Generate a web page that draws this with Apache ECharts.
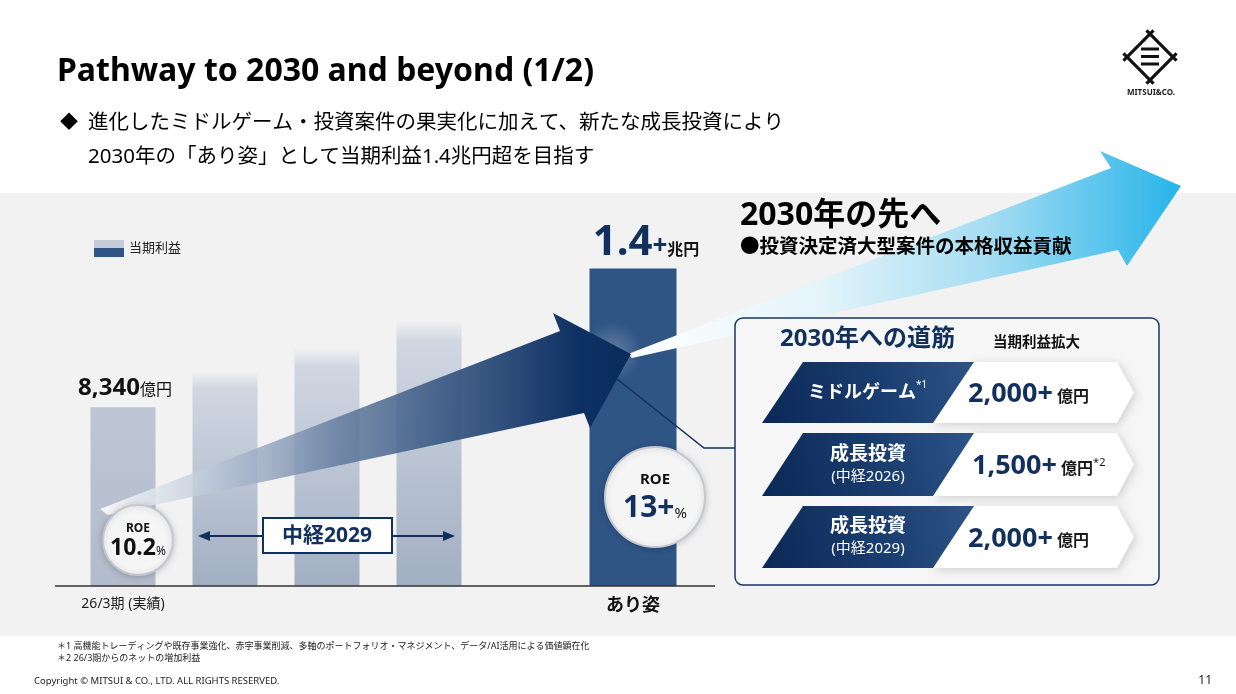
<!DOCTYPE html>
<html>
<head>
<meta charset="utf-8">
<script src="https://cdn.jsdelivr.net/npm/echarts@6/dist/echarts.min.js"></script>
<style>
  html, body { margin: 0; padding: 0; background: #fff; }
  #chart { width: 1236px; height: 694px; }
</style>
</head>
<body>
<div id="chart"></div>
<script>
// 当期利益（億円）: 26/3期実績, 中経2029期間の3本（目安）, 空き, あり姿
var categories = ['26/3期 (実績)', '', '', '', '', 'あり姿'];
var profit = [8340, 10000, 11100, 12400, null, 14800];
var valueText = ['8,340', '', '', '', '', '1.4'];
var valueUnit = ['億円', '', '', '', '', '兆円'];
var roeText = ['10.2', '13+'];

// 2030年への道筋
var pathName = ['ミドルゲーム', '成長投資', '成長投資'];
var pathSub = ['', '(中経2026)', '(中経2029)'];
var pathValue = ['2,000+', '1,500+', '2,000+'];
var pathNote = ['', '*2', ''];

var FONT = "'Noto Sans', 'Noto Sans CJK JP', sans-serif";
var NAVY = '#12305d';

var chart = echarts.init(document.getElementById('chart'));

var barData = [];
for (var i = 0; i < profit.length; i++) {
  if (profit[i] != null) barData.push([i, profit[i]]);
}

function barFill(i) {
  if (i === 0) {
    return new echarts.graphic.LinearGradient(0, 0, 0, 1, [
      { offset: 0, color: '#bdc6d4' }, { offset: 1, color: '#b2bccb' }
    ]);
  }
  if (i === 5) return '#2f5585';
  return new echarts.graphic.LinearGradient(0, 0, 0, 1, [
    { offset: 0, color: 'rgba(205,213,225,0)' },
    { offset: 0.08, color: '#d0d7e2' },
    { offset: 1, color: '#a2afc2' }
  ]);
}

function renderBar(params, api) {
  var i = api.value(0);
  var top = api.coord([i, api.value(1)]);
  var base = api.coord([i, 0]);
  var w = i === 5 ? 87 : 65;
  var children = [{
    type: 'rect',
    shape: { x: top[0] - w / 2, y: top[1], width: w, height: base[1] - top[1] },
    style: { fill: barFill(i) }
  }];
  if (i === 0) {
    children.push({
      type: 'text',
      style: {
        text: '{n|' + valueText[i] + '}{u|' + valueUnit[i] + '}',
        x: top[0] + 2, y: top[1] - 19,
        align: 'center', verticalAlign: 'middle',
        rich: {
          n: { fontFamily: FONT, fontSize: 24, fontWeight: 'bold', fill: '#111', verticalAlign: 'bottom' },
          u: { fontFamily: FONT, fontSize: 16, fill: '#111', verticalAlign: 'bottom', padding: [0, 0, 2, 0] }
        }
      }
    });
  } else if (i === 5) {
    children.push({
      type: 'text',
      style: {
        text: '{n|' + valueText[i] + '}{p|+}{u|' + valueUnit[i] + '}',
        x: top[0] + 13, y: top[1] - 26,
        align: 'center', verticalAlign: 'middle',
        rich: {
          n: { fontFamily: FONT, fontSize: 42, fontWeight: 'bold', fill: NAVY, verticalAlign: 'bottom' },
          p: { fontFamily: FONT, fontSize: 26, fontWeight: 'bold', fill: NAVY, verticalAlign: 'bottom', padding: [0, 0, 4, 0] },
          u: { fontFamily: FONT, fontSize: 16, fontWeight: 'bold', fill: '#111', verticalAlign: 'bottom', padding: [0, 0, 5, 0] }
        }
      }
    });
  }
  return { type: 'group', children: children };
}

// ---- 装飾（スライド要素） ----
var decor = [];

// グレー背景パネル
decor.push({ type: 'rect', z: -10, shape: { x: 0, y: 193, width: 1236, height: 443 }, style: { fill: '#f2f2f2' } });

// タイトル・リード文
decor.push({ type: 'text', x: 57, y: 72, style: { text: 'Pathway to 2030 and beyond (1/2)', font: 'bold 32px ' + FONT, fill: '#000', align: 'left', verticalAlign: 'middle', textAlign: 'left', textVerticalAlign: 'middle' } });
decor.push({ type: 'text', x: 60, y: 123, style: { text: '◆', font: '18px ' + FONT, fill: '#000', verticalAlign: 'middle', textVerticalAlign: 'middle' } });
decor.push({ type: 'text', x: 88, y: 123, style: { text: '進化したミドルゲーム・投資案件の果実化に加えて、新たな成長投資により', font: '20.5px ' + FONT, fill: '#000', verticalAlign: 'middle', textVerticalAlign: 'middle' } });
decor.push({ type: 'text', x: 88, y: 157, style: { text: '2030年の「あり姿」として当期利益1.4兆円超を目指す', font: '20.5px ' + FONT, fill: '#000', verticalAlign: 'middle', textVerticalAlign: 'middle' } });

// ロゴ
(function () {
  var cx = 1150, cy = 57, r = 23, e = 5;
  var pts = [[cx - r, cy], [cx, cy - r], [cx + r, cy], [cx, cy + r]];
  for (var k = 0; k < 4; k++) {
    var a = pts[k], b = pts[(k + 1) % 4];
    var dx = (b[0] - a[0]) / Math.hypot(b[0] - a[0], b[1] - a[1]);
    var dy = (b[1] - a[1]) / Math.hypot(b[0] - a[0], b[1] - a[1]);
    decor.push({ type: 'line', shape: { x1: a[0] - dx * e, y1: a[1] - dy * e, x2: b[0] + dx * e, y2: b[1] + dy * e }, style: { stroke: '#111', lineWidth: 3.2 } });
  }
  [49, 56.5, 64].forEach(function (yy) {
    decor.push({ type: 'rect', shape: { x: cx - 9, y: yy - 1.5, width: 18, height: 3 }, style: { fill: '#111' } });
  });
  decor.push({ type: 'text', x: cx + 1, y: 93, style: { text: 'MITSUI&CO.', font: 'bold 8px ' + FONT, fill: '#222', align: 'center', verticalAlign: 'middle', textAlign: 'center', textVerticalAlign: 'middle' } });
})();

// 横軸ライン
decor.push({ type: 'line', z: 5, shape: { x1: 55, y1: 586, x2: 715, y2: 586 }, style: { stroke: '#333', lineWidth: 1.5 } });

// 水色の矢印（2030年の先へ）
decor.push({
  type: 'polygon', z: 3,
  shape: { points: [[628, 354], [1111, 168], [1100, 151], [1181, 186], [1127, 266], [1118, 250], [632, 358]] },
  style: {
    fill: new echarts.graphic.LinearGradient(628, 0, 1181, 0, [
      { offset: 0, color: '#ffffff' },
      { offset: 0.35, color: '#e3f4fa' },
      { offset: 0.65, color: '#a6ddf2' },
      { offset: 1, color: '#27b4ea' }
    ], true)
  }
});

// 紺色の矢印
decor.push({
  type: 'polygon', z: 10,
  shape: { points: [[100, 509], [560, 331], [553, 313], [631, 354], [590, 428], [584, 413], [108, 515]] },
  style: {
    fill: new echarts.graphic.LinearGradient(100, 0, 631, 0, [
      { offset: 0, color: 'rgba(255,255,255,0.9)' },
      { offset: 0.2, color: 'rgba(190,202,218,0.8)' },
      { offset: 0.45, color: 'rgba(100,124,160,0.85)' },
      { offset: 0.7, color: 'rgba(45,78,122,0.92)' },
      { offset: 0.9, color: '#0e3163' },
      { offset: 1, color: '#0a2b5c' }
    ], true)
  }
});
decor.push({
  type: 'circle', z: 9, shape: { cx: 612, cy: 352, r: 30 },
  style: { fill: new echarts.graphic.RadialGradient(0.5, 0.5, 0.5, [
    { offset: 0, color: 'rgba(255,255,255,0.25)' }, { offset: 1, color: 'rgba(255,255,255,0)' }
  ]) }
});

// 引き出し線
decor.push({ type: 'polyline', z: 11, shape: { points: [[617, 379], [704, 448], [736, 448]] }, style: { stroke: NAVY, lineWidth: 1.5, fill: null } });

// ROE 円
function roeCircle(cx, cy, r, label, num, s1, s2, s3, numColor, dy1, dy2) {
  decor.push({ type: 'circle', z: 20, shape: { cx: cx, cy: cy, r: r }, style: { fill: '#f5f5f5', stroke: '#c3c8d0', lineWidth: 2, shadowBlur: 6, shadowColor: 'rgba(0,0,0,0.18)', shadowOffsetY: 1 } });
  decor.push({ type: 'text', z: 21, x: cx, y: cy + dy1, style: { text: label, font: 'bold ' + s1 + 'px ' + FONT, fill: '#111', align: 'center', verticalAlign: 'middle', textAlign: 'center', textVerticalAlign: 'middle' } });
  decor.push({
    type: 'text', z: 21, x: cx, y: cy + dy2,
    style: {
      text: '{n|' + num + '}{u|%}', align: 'center', verticalAlign: 'middle', textAlign: 'center', textVerticalAlign: 'middle',
      rich: {
        n: { fontFamily: FONT, fontSize: s2, fontWeight: 'bold', fill: numColor, verticalAlign: 'bottom' },
        u: { fontFamily: FONT, fontSize: s3, fill: '#111', verticalAlign: 'bottom', padding: [0, 0, 2, 0] }
      }
    }
  });
}
roeCircle(138, 540, 35, 'ROE', roeText[0], 12, 23, 12, '#111', -11, 8);
roeCircle(655, 497, 50, 'ROE', roeText[1], 15, 30, 15, NAVY, -17, 11);

// 中経2029 ラベルと両矢印
decor.push({ type: 'line', z: 12, shape: { x1: 206, y1: 536, x2: 447, y2: 536 }, style: { stroke: NAVY, lineWidth: 1.8 } });
decor.push({ type: 'polygon', z: 12, shape: { points: [[198, 536], [210, 531], [210, 541]] }, style: { fill: NAVY } });
decor.push({ type: 'polygon', z: 12, shape: { points: [[455, 536], [443, 531], [443, 541]] }, style: { fill: NAVY } });
decor.push({ type: 'rect', z: 13, shape: { x: 263, y: 518, width: 129, height: 35 }, style: { fill: '#fff', stroke: NAVY, lineWidth: 2 } });
decor.push({ type: 'text', z: 14, x: 327, y: 536, style: { text: '中経2029', font: 'bold 21px ' + FONT, fill: NAVY, align: 'center', verticalAlign: 'middle', textAlign: 'center', textVerticalAlign: 'middle' } });

// 2030年の先へ
decor.push({ type: 'text', z: 15, x: 740, y: 216, style: { text: '2030年の先へ', font: 'bold 32px ' + FONT, fill: '#000', verticalAlign: 'middle', textVerticalAlign: 'middle' } });
decor.push({ type: 'text', z: 15, x: 740, y: 247, style: { text: '●投資決定済大型案件の本格収益貢献', font: 'bold 19.5px ' + FONT, fill: '#000', verticalAlign: 'middle', textVerticalAlign: 'middle' } });

// 2030年への道筋 ボックス
decor.push({ type: 'rect', z: 15, shape: { x: 735, y: 318, width: 424, height: 267, r: 8 }, style: { fill: '#f6f6f6', stroke: '#1a3663', lineWidth: 1.5 } });
decor.push({ type: 'text', z: 16, x: 780, y: 339, style: { text: '2030年への道筋', font: 'bold 24px ' + FONT, fill: NAVY, verticalAlign: 'middle', textVerticalAlign: 'middle' } });
decor.push({ type: 'text', z: 16, x: 993, y: 343, style: { text: '当期利益拡大', font: 'bold 14.5px ' + FONT, fill: '#111', verticalAlign: 'middle', textVerticalAlign: 'middle' } });

var rowTop = [362, 433, 506];
var rowBottom = [423, 496, 568];
for (var r = 0; r < pathName.length; r++) {
  var t = rowTop[r], b = rowBottom[r], m = (t + b) / 2;
  decor.push({ type: 'polygon', z: 16, shape: { points: [[973, t], [1117, t], [1134, m], [1117, b], [933, b]] }, style: { fill: '#fff', shadowBlur: 8, shadowColor: 'rgba(0,0,0,0.16)', shadowOffsetX: 2, shadowOffsetY: 2 } });
  decor.push({
    type: 'polygon', z: 17, shape: { points: [[803, t], [974, t], [933, b], [762, b]] },
    style: { fill: new echarts.graphic.LinearGradient(762, b, 974, t, [
      { offset: 0, color: '#0a2856' }, { offset: 0.6, color: '#1b3f71' }, { offset: 1, color: '#2e5588' }
    ], true) }
  });
  if (pathSub[r]) {
    decor.push({ type: 'text', z: 18, x: 868, y: m - 10, style: { text: pathName[r], font: 'bold 19px ' + FONT, fill: '#fff', align: 'center', verticalAlign: 'middle', textAlign: 'center', textVerticalAlign: 'middle' } });
    decor.push({ type: 'text', z: 18, x: 868, y: m + 12, style: { text: pathSub[r], font: '15px ' + FONT, fill: '#fff', align: 'center', verticalAlign: 'middle', textAlign: 'center', textVerticalAlign: 'middle' } });
  } else {
    decor.push({ type: 'text', z: 18, x: 862, y: m, style: { text: pathName[r], font: 'bold 18px ' + FONT, fill: '#fff', align: 'center', verticalAlign: 'middle', textAlign: 'center', textVerticalAlign: 'middle' } });
    decor.push({ type: 'text', z: 18, x: 916, y: m - 7, style: { text: '*1', font: '10px ' + FONT, fill: '#fff', verticalAlign: 'middle', textVerticalAlign: 'middle' } });
  }
  decor.push({
    type: 'text', z: 18, x: r === 1 ? 972 : 968, y: m + 2,
    style: {
      text: '{v|' + pathValue[r] + '}{u| 億円}' + (pathNote[r] ? '{s|' + pathNote[r] + '}' : ''),
      verticalAlign: 'middle', textVerticalAlign: 'middle',
      rich: {
        v: { fontFamily: FONT, fontSize: 27, fontWeight: 'bold', fill: NAVY, verticalAlign: 'bottom' },
        u: { fontFamily: FONT, fontSize: 16, fontWeight: 'bold', fill: '#1a1a1a', verticalAlign: 'bottom', padding: [0, 0, 3, 0] },
        s: { fontFamily: FONT, fontSize: 11, fill: '#1a1a1a', verticalAlign: 'bottom', padding: [0, 0, 12, 0] }
      }
    }
  });
}

// 注記・コピーライト
decor.push({ type: 'text', x: 57, y: 646, style: { text: '＊1 高機能トレーディングや既存事業強化、赤字事業削減、多軸のポートフォリオ・マネジメント、データ/AI活用による価値顕在化', font: '9px ' + FONT, fill: '#222', verticalAlign: 'middle', textVerticalAlign: 'middle' } });
decor.push({ type: 'text', x: 57, y: 658, style: { text: '＊2 26/3期からのネットの増加利益', font: '9px ' + FONT, fill: '#222', verticalAlign: 'middle', textVerticalAlign: 'middle' } });
decor.push({ type: 'text', x: 34, y: 681, style: { text: 'Copyright © MITSUI & CO., LTD. ALL RIGHTS RESERVED.', font: '9.5px ' + FONT, fill: '#222', verticalAlign: 'middle', textVerticalAlign: 'middle' } });
decor.push({ type: 'text', x: 1212, y: 681, style: { text: '11', font: '12px ' + FONT, fill: '#222', align: 'right', verticalAlign: 'middle', textAlign: 'right', textVerticalAlign: 'middle' } });

var option = {
  backgroundColor: '#fff',
  animation: false,
  textStyle: { fontFamily: FONT },
  legend: {
    left: 89, top: 235,
    itemWidth: 30, itemHeight: 17, itemGap: 5,
    textStyle: { fontSize: 13, color: '#222' },
    data: [{ name: '当期利益', icon: 'rect' }]
  },
  grid: { left: 72, right: 552, top: 200, bottom: 108 },
  xAxis: {
    type: 'category',
    data: categories,
    axisLine: { show: false },
    axisTick: { show: false },
    axisLabel: {
      interval: 0, margin: 11,
      formatter: function (v, idx) {
        if (!v) return '';
        return idx === 5 ? '{b|' + v + '}' : '{a|' + v + '}';
      },
      rich: {
        a: { fontSize: 14, color: '#222' },
        b: { fontSize: 18, fontWeight: 'bold', color: '#111' }
      }
    }
  },
  yAxis: { type: 'value', min: 0, max: 18000, show: false, splitLine: { show: false } },
  series: [{
    name: '当期利益',
    type: 'custom',
    z: 2,
    renderItem: renderBar,
    itemStyle: {
      color: new echarts.graphic.LinearGradient(0, 0, 0, 1, [
        { offset: 0, color: '#c4ccd9' }, { offset: 0.45, color: '#c4ccd9' },
        { offset: 0.5, color: '#2f5585' }, { offset: 1, color: '#2f5585' }
      ])
    },
    data: barData
  }],
  graphic: { elements: decor }
};

chart.setOption(option);
</script>
</body>
</html>
